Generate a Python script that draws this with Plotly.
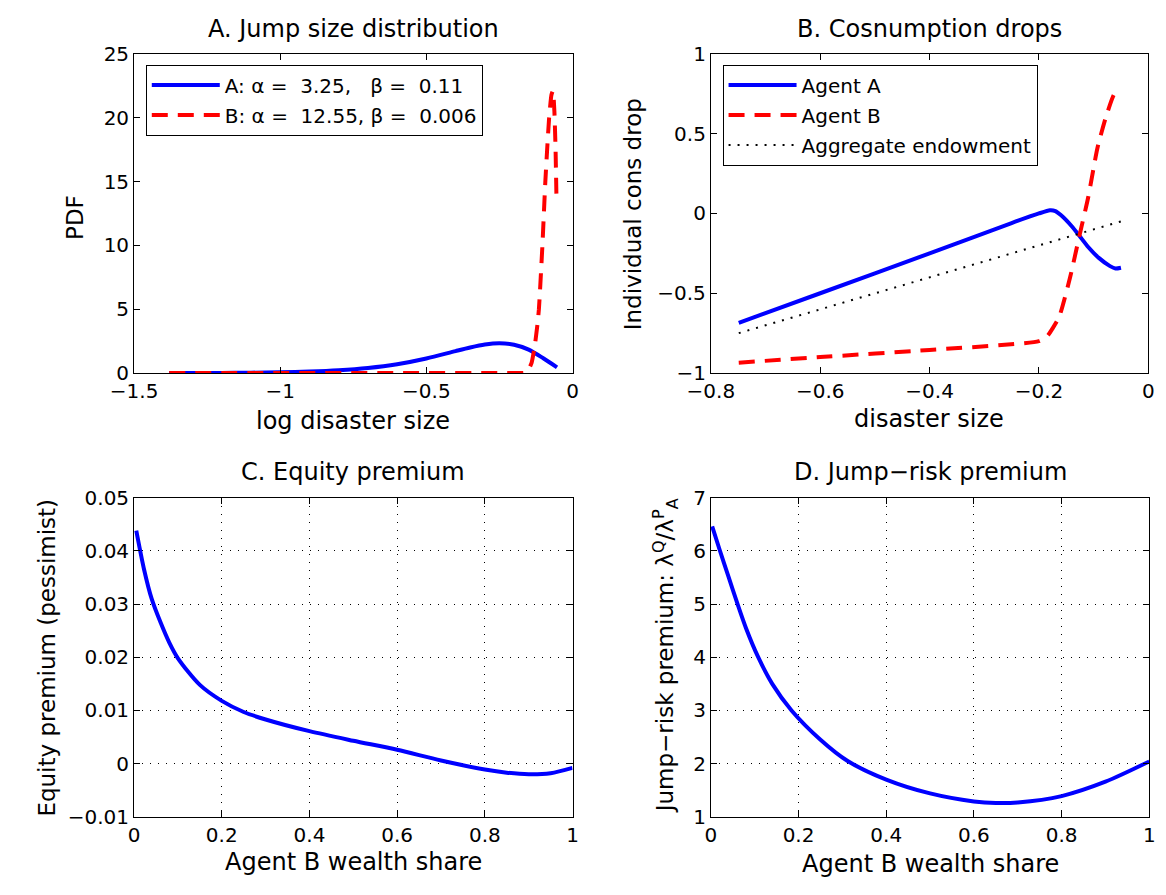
import plotly.graph_objects as go

# ---------------- data ----------------
# Panel A: jump size distribution (PDF vs log disaster size)
a_blue_x = [-1.38, -1.2, -1.1, -1.0, -0.9, -0.8, -0.7, -0.6, -0.5, -0.4, -0.35, -0.3, -0.25, -0.2, -0.15, -0.1, -0.053]
a_blue_y = [0.0, 0.014, 0.03, 0.058, 0.113, 0.215, 0.395, 0.69, 1.14, 1.72, 2.0, 2.23, 2.33, 2.22, 1.84, 1.16, 0.45]
a_red_x = [-1.38, -0.6, -0.2, -0.165, -0.15, -0.14, -0.13, -0.12, -0.115, -0.103, -0.093, -0.08, -0.072, -0.067, -0.062, -0.058, -0.055]
a_red_y = [0.0, 0.0, 0.0, 0.02, 0.3, 0.8, 2.0, 3.8, 5.0, 10.0, 15.0, 20.0, 21.8, 22.1, 20.5, 17.5, 13.8]

# Panel B: consumption drops vs disaster size
b_agentA_x = [-0.749, -0.6, -0.4, -0.25, -0.2, -0.18, -0.17, -0.16, -0.14, -0.126, -0.11, -0.09, -0.07, -0.06, -0.05]
b_agentA_y = [-0.685, -0.5, -0.25, -0.06, 0.0, 0.02, 0.015, -0.01, -0.08, -0.14, -0.21, -0.28, -0.33, -0.345, -0.34]
b_agentB_x = [-0.749, -0.6, -0.4, -0.2, -0.185, -0.175, -0.163, -0.143, -0.126, -0.11, -0.093, -0.077, -0.063, -0.057, -0.05]
b_agentB_y = [-0.935, -0.9, -0.855, -0.8, -0.77, -0.72, -0.648, -0.40, -0.14, 0.10, 0.41, 0.61, 0.744, 0.765, 0.78]
b_agg_x = [-0.749, -0.05]
b_agg_y = [-0.75, -0.05]

# Panel C: equity premium vs agent B wealth share
c_x = [0.005, 0.023, 0.04, 0.06, 0.08, 0.1, 0.15, 0.2, 0.25, 0.3, 0.4, 0.5, 0.6, 0.7, 0.8, 0.85, 0.9, 0.95, 1.0]
c_y = [0.0438, 0.0364, 0.031, 0.0266, 0.0228, 0.0198, 0.0148, 0.0118, 0.0097, 0.0083, 0.0061, 0.0043, 0.0026, 0.0006,
       -0.0011, -0.0017, -0.002, -0.0018, -0.0008]

# Panel D: jump-risk premium vs agent B wealth share
d_x = [0.003, 0.02, 0.04, 0.06, 0.08, 0.108, 0.14, 0.184, 0.25, 0.312, 0.4, 0.5, 0.6, 0.65, 0.7, 0.8, 0.9, 1.0]
d_y = [6.46, 6.02, 5.52, 5.02, 4.55, 4.0, 3.5, 3.0, 2.45, 2.05, 1.7, 1.44, 1.29, 1.26, 1.27, 1.39, 1.66, 2.04]

# tick values / labels
a_xticks = [-1.5, -1, -0.5, 0]
a_xlabels = ["−1.5", "−1", "−0.5", "0"]
a_yticks = [0, 5, 10, 15, 20, 25]
a_ylabels = ["0", "5", "10", "15", "20", "25"]
b_xticks = [-0.8, -0.6, -0.4, -0.2, 0]
b_xlabels = ["−0.8", "−0.6", "−0.4", "−0.2", "0"]
b_yticks = [-1, -0.5, 0, 0.5, 1]
b_ylabels = ["−1", "−0.5", "0", "0.5", "1"]
cd_xticks = [0, 0.2, 0.4, 0.6, 0.8, 1]
cd_xlabels = ["0", "0.2", "0.4", "0.6", "0.8", "1"]
c_yticks = [-0.01, 0, 0.01, 0.02, 0.03, 0.04, 0.05]
c_ylabels = ["−0.01", "0", "0.01", "0.02", "0.03", "0.04", "0.05"]
d_yticks = [1, 2, 3, 4, 5, 6, 7]
d_ylabels = ["1", "2", "3", "4", "5", "6", "7"]

legend_a = ["A: α =\u00a0 3.25,\u00a0\u00a0 β =\u00a0 0.11", "B: α =\u00a0 12.55, β =\u00a0 0.006"]
legend_b = ["Agent A", "Agent B", "Aggregate endowment"]

# ---------------- styling ----------------
W, H = 1166, 895
FONT = "DejaVu Sans, Liberation Sans, Arial, sans-serif"
TICK = 20
TITLE = 24
BLUE = "#0000ff"
RED = "#ff0000"
LW = 4
DASH = "16px,10px"


def px(v):
    return v / W


def py(v):
    return 1 - v / H


# plot areas in pixels (left, right, top, bottom)
boxes = {
    "A": (113, 563, 43, 371),
    "B": (705, 1154, 43, 371),
    "C": (113, 563, 499, 827),
    "D": (705, 1155, 499, 827),
}

fig = go.Figure()

fig.add_trace(go.Scatter(x=a_blue_x, y=a_blue_y, mode="lines", name=legend_a[0], legendgroup="a1",
                         line=dict(color=BLUE, width=LW, shape="spline", smoothing=0.8),
                         xaxis="x", yaxis="y", legend="legend"))
fig.add_trace(go.Scatter(x=a_red_x, y=a_red_y, mode="lines", name=legend_a[1], legendgroup="a2",
                         line=dict(color=RED, width=LW, dash=DASH, shape="spline", smoothing=0.5),
                         xaxis="x", yaxis="y", legend="legend"))

fig.add_trace(go.Scatter(x=b_agentA_x, y=b_agentA_y, mode="lines", name=legend_b[0], legendgroup="b1",
                         line=dict(color=BLUE, width=LW, shape="spline", smoothing=0.6),
                         xaxis="x2", yaxis="y2", legend="legend2"))
fig.add_trace(go.Scatter(x=b_agentB_x, y=b_agentB_y, mode="lines", name=legend_b[1], legendgroup="b2",
                         line=dict(color=RED, width=LW, dash=DASH, shape="spline", smoothing=0.6),
                         xaxis="x2", yaxis="y2", legend="legend2"))
fig.add_trace(go.Scatter(x=b_agg_x, y=b_agg_y, mode="lines", name=legend_b[2], legendgroup="b3",
                         line=dict(color="black", width=2, dash="2px,7px"),
                         xaxis="x2", yaxis="y2", legend="legend2"))

fig.add_trace(go.Scatter(x=c_x, y=c_y, mode="lines", showlegend=False,
                         line=dict(color=BLUE, width=LW, shape="spline", smoothing=0.8),
                         xaxis="x3", yaxis="y3"))
fig.add_trace(go.Scatter(x=d_x, y=d_y, mode="lines", showlegend=False,
                         line=dict(color=BLUE, width=LW, shape="spline", smoothing=0.8),
                         xaxis="x4", yaxis="y4"))


def axis(box, horiz, rng, tickvals, ticktext, anchor, grid):
    l, r, t, b = boxes[box]
    dom = [px(l), px(r)] if horiz else [py(b), py(t)]
    return dict(domain=dom, range=rng, anchor=anchor, tickmode="array",
                tickvals=tickvals, ticktext=ticktext, showline=True, linecolor="black",
                linewidth=1, mirror="ticks", ticks="inside", ticklen=6, tickcolor="black",
                tickwidth=1, zeroline=False, showgrid=grid, gridcolor="black", gridwidth=1,
                griddash="1px,7px", tickfont=dict(family=FONT, size=TICK, color="black"),
                fixedrange=True)


leg_common = dict(xanchor="left", yanchor="top", bgcolor="white", bordercolor="black",
                  borderwidth=1, font=dict(family=FONT, size=20, color="black"),
                  itemwidth=68, tracegroupgap=1)

layout = dict(
    width=W, height=H, margin=dict(l=0, r=0, t=0, b=0), autosize=False,
    paper_bgcolor="white", plot_bgcolor="white",
    font=dict(family=FONT, size=TICK, color="black"),
    xaxis=axis("A", True, [-1.5, 0], a_xticks, a_xlabels, "y", False),
    yaxis=axis("A", False, [0, 25], a_yticks, a_ylabels, "x", False),
    xaxis2=axis("B", True, [-0.8, 0], b_xticks, b_xlabels, "y2", False),
    yaxis2=axis("B", False, [-1, 1], b_yticks, b_ylabels, "x2", False),
    xaxis3=axis("C", True, [0, 1], cd_xticks, cd_xlabels, "y3", True),
    yaxis3=axis("C", False, [-0.01, 0.05], c_yticks, c_ylabels, "x3", True),
    xaxis4=axis("D", True, [0, 1], cd_xticks, cd_xlabels, "y4", True),
    yaxis4=axis("D", False, [1, 7], d_yticks, d_ylabels, "x4", True),
    legend=dict(x=px(125), y=py(54), **leg_common),
    legend2=dict(x=px(717), y=py(54), **leg_common),
    showlegend=True,
)
fig.update_layout(**layout)

ann = []


def add_text(text, xpix, ypix, size, angle=0):
    ann.append(dict(text=text, x=px(xpix), y=py(ypix), xref="paper", yref="paper",
                    showarrow=False, xanchor="center", yanchor="middle", textangle=angle,
                    font=dict(family=FONT, size=size, color="black")))


# panel titles
add_text("A. Jump size distribution", 338, 17, TITLE)
add_text("B. Cosnumption drops", 929, 17, TITLE)
add_text("C. Equity premium", 338, 473, TITLE)
add_text("D. Jump−risk premium", 930, 473, TITLE)
# x-axis titles
add_text("log disaster size", 338, 420, TITLE)
add_text("disaster size", 929, 418, TITLE)
add_text("Agent B wealth share", 338, 873, TITLE)
add_text("Agent B wealth share", 930, 875, TITLE)
# y-axis titles
add_text("PDF", 53, 211, 23, -90)
add_text("Individual cons drop", 626, 208, 23, -90)
add_text("Equity premium (pessimist)", 24, 663, 23, -90)
add_text("Jump−risk premium: λ<sup>Q</sup>/λ<sup>P</sup><sub>A</sub>", 658, 662, 23, -90)
fig.update_layout(annotations=ann)

fig.write_html("out.html", config={"displayModeBar": False},
               post_script="document.body.style.margin='0';")
